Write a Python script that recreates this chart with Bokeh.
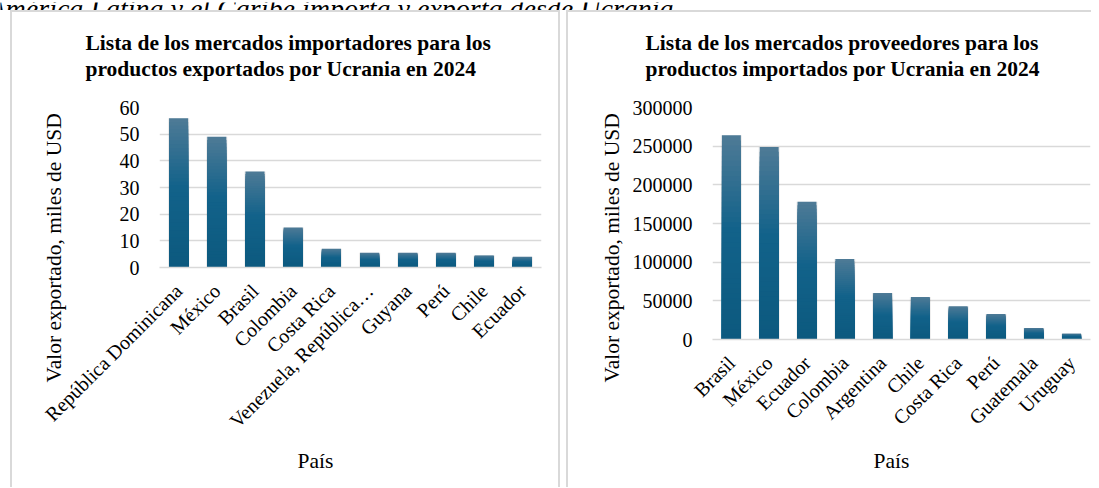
import math
from bokeh.plotting import figure
from bokeh.models import (Range1d, Label, Title, FixedTicker, LinearAxis, Spacer,
                          NumeralTickFormatter)
from bokeh.layouts import row, column
from bokeh.embed import file_html
from bokeh.resources import INLINE

# ---------------- data ----------------
exp_countries = ["República Dominicana", "México", "Brasil", "Colombia", "Costa Rica",
                 "Venezuela, República…", "Guyana", "Perú", "Chile", "Ecuador"]
exp_values = [56, 49, 36, 15, 7, 5.5, 5.5, 5.5, 4.5, 4]
exp_ticks = [0, 10, 20, 30, 40, 50, 60]

imp_countries = ["Brasil", "México", "Ecuador", "Colombia", "Argentina", "Chile",
                 "Costa Rica", "Perú", "Guatemala", "Uruguay"]
imp_values = [264000, 249000, 178000, 104000, 60000, 55000, 43000, 33000, 15000, 7500]
imp_ticks = [0, 50000, 100000, 150000, 200000, 250000, 300000]

exp_title = ["Lista de los mercados importadores para los",
             "productos exportados por Ucrania en 2024"]
imp_title = ["Lista de los mercados proveedores para los",
             "productos importados por Ucrania en 2024"]
y_label = "Valor exportado, miles de USD"
x_label = "País"
caption = "América Latina y el Caribe importa y exporta desde Ucrania"

SERIF = "Liberation Serif"
GRID = "#d9d9d9"
TEXT = "#000000"


def lerp(c1, c2, t):
    a = [int(c1[i:i + 2], 16) for i in (1, 3, 5)]
    b = [int(c2[i:i + 2], 16) for i in (1, 3, 5)]
    return "#" + "".join(f"{round(a[i] + (b[i] - a[i]) * t):02x}" for i in range(3))


def grad_color(t):
    # t = 0 bottom, 1 top
    if t > 0.55:
        return lerp("#12628a", "#4d7a96", (t - 0.55) / 0.45)
    return lerp("#0c597e", "#12628a", t / 0.55)


def spacer_axis(size, tick):
    # an axis with a single blank tick, used only to reserve room in a side panel
    ax = LinearAxis(ticker=FixedTicker(ticks=[tick]), axis_line_color=None,
                    major_tick_line_color="white", minor_tick_line_color=None,
                    major_tick_in=0, major_tick_out=size, minor_tick_out=0,
                    major_label_text_font_size="1px", major_label_standoff=0,
                    major_label_text_color="white")
    ax.major_label_overrides = {tick: ""}
    return ax


def make_chart(cats, vals, ticks, ymax, title, width, height, mb, cfg):
    p = figure(x_range=cats, y_range=Range1d(0, ymax), width=width, height=height,
               toolbar_location=None, output_backend="svg",
               min_border_left=mb[0], min_border_right=mb[1],
               min_border_top=mb[2], min_border_bottom=mb[3])
    p.outline_line_color = None
    p.background_fill_color = "white"
    p.border_fill_color = "white"

    # soft shadow
    p.vbar(x=cats, top=vals, width=0.56, bottom=0, fill_color="#000000",
           fill_alpha=0.07, line_color=None)
    # vertical gradient: overlapping bars, each reaching a fraction of the value
    N = 40
    for k in range(N, 0, -1):
        tops = [v * k / N for v in vals]
        c = grad_color(k / N)
        p.vbar(x=cats, bottom=0, top=tops, width=0.5, fill_color=c, line_color=None)

    p.xgrid.visible = False
    p.ygrid.grid_line_color = GRID
    p.ygrid.grid_line_width = 1.6
    p.yaxis.ticker = FixedTicker(ticks=ticks)
    p.yaxis.formatter = NumeralTickFormatter(format="0")
    p.yaxis.axis_line_color = None
    p.yaxis.major_tick_line_color = None
    p.yaxis.minor_tick_line_color = None
    p.yaxis.major_tick_in = 0
    p.yaxis.major_tick_out = 0
    p.yaxis.minor_tick_out = 0
    p.yaxis.major_label_text_font = SERIF
    p.yaxis.major_label_text_font_size = "20px"
    p.yaxis.major_label_text_color = TEXT
    p.yaxis.major_label_standoff = 20

    p.xaxis.axis_line_color = GRID
    p.xaxis.axis_line_width = 1.6
    p.xaxis.major_tick_line_color = None
    p.xaxis.minor_tick_line_color = None
    p.xaxis.major_tick_in = 0
    p.xaxis.major_tick_out = 0
    p.xaxis.major_label_orientation = math.pi / 4
    p.xaxis.major_label_text_font = SERIF
    p.xaxis.major_label_text_font_size = "20px"
    p.xaxis.major_label_text_color = TEXT
    p.xaxis.major_label_standoff = 20
    p.x_range.range_padding = 0

    xt, yt = cfg["xt"], cfg["yt"]
    # title above: spacer (nearest frame), then the two-line title
    p.add_layout(spacer_axis(cfg["top_gap"], xt), "above")
    p.add_layout(Title(text="\n".join(title), align="left", offset=cfg["t_off"],
                       standoff=0, vertical_align="bottom", text_font=SERIF,
                       text_font_style="bold", text_font_size="21.5px",
                       text_line_height=1.1, text_color=TEXT), "above")
    # y label at the left
    p.add_layout(spacer_axis(cfg["left_gap"], yt), "left")
    p.add_layout(Title(text=y_label, align="left", offset=cfg["y_off"], standoff=0,
                       vertical_align="bottom", text_font=SERIF,
                       text_font_style="normal", text_font_size="21.5px",
                       text_color=TEXT), "left")
    # x label below
    p.add_layout(spacer_axis(cfg["bottom_gap"], xt), "below")
    p.add_layout(Title(text=x_label, align="left", offset=cfg["x_off"], standoff=0,
                       vertical_align="top", text_font=SERIF,
                       text_font_style="normal", text_font_size="21.5px",
                       text_color=TEXT), "below")
    return p


H = 475
EXTRA = H - 468
left = make_chart(exp_countries, exp_values, exp_ticks, 60, exp_title, 546, H,
                  (147, 17, 95, 213 + EXTRA),
                  dict(top_gap=26, t_off=-74, left_gap=51, y_off=-115,
                       bottom_gap=6, x_off=138, xt=5, yt=30))
right = make_chart(imp_countries, imp_values, imp_ticks, 300000, imp_title, 523, H,
                   (144, 1, 95, 141 + EXTRA),
                   dict(top_gap=26, t_off=-67, left_gap=6, y_off=-43,
                        bottom_gap=9, x_off=161, xt=5, yt=150000))


def vline(h):
    return Spacer(width=2, height=h, styles={"background-color": GRID})


def hline(w):
    return Spacer(width=w, height=2, styles={"background-color": GRID})


panel_left = column(hline(550), row(vline(H), left, vline(H)))
panel_right = column(hline(525), row(vline(H), right))

strip = figure(width=1091, height=10, x_range=Range1d(0, 1), y_range=Range1d(0, 1),
               toolbar_location=None, output_backend="svg", min_border=0,
               x_axis_location=None, y_axis_location=None)
strip.outline_line_color = None
strip.grid.visible = False
strip.add_layout(Label(x=-12, y=4, x_units="screen", y_units="screen", text=caption,
                       text_font=SERIF, text_font_style="italic", text_font_size="28px",
                       text_baseline="alphabetic", text_color=TEXT))

layout = column(strip,
                row(Spacer(width=10, height=H + 2), panel_left,
                    Spacer(width=6, height=H + 2), panel_right))

open("out.html", "w").write(file_html(layout, INLINE))
